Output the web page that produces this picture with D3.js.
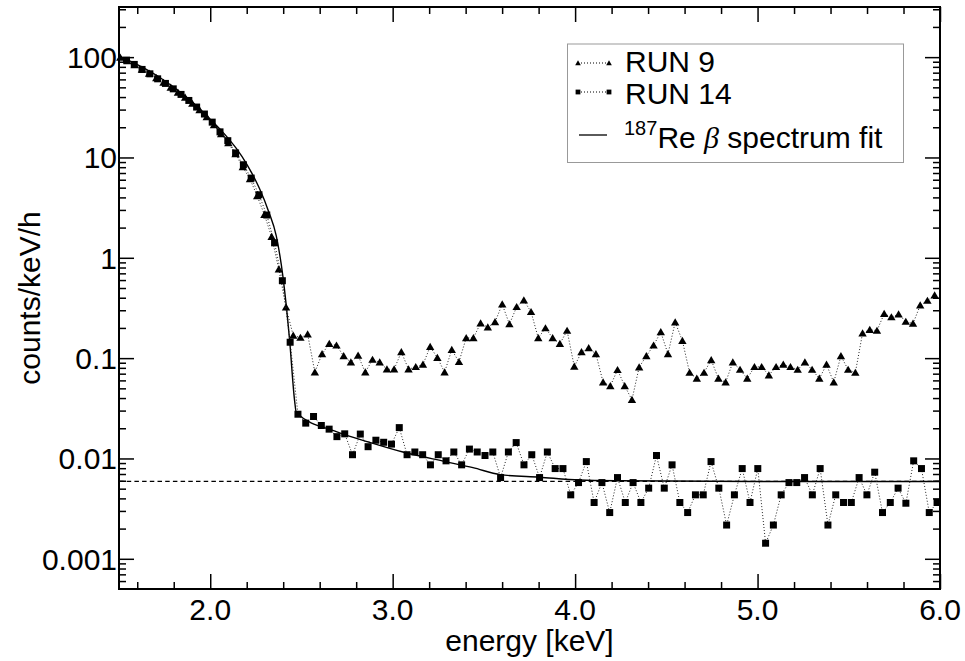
<!DOCTYPE html>
<html>
<head>
<meta charset="utf-8">
<script src="https://d3js.org/d3.v7.min.js"></script>
<style>
  body { margin: 0; background: #fff; }
  text { font-family: "Liberation Sans", Arial, Helvetica, sans-serif; fill: #000; }
</style>
</head>
<body>
<script>

// RUN 9 spectrum (triangles), equal bins starting at run9Start
var run9Start = 1.507, run9Step = 0.0395;
var run9 = [99, 91.2, 83.2, 75.1, 68.5, 61.8, 55.7, 49.7, 44.3, 39.5,
  34.4, 29.7, 25.3, 21.0, 17.1, 13.9, 10.8, 8.02, 6.09, 4.13,
  2.69, 1.62, 0.768, 0.321, 0.168, 0.160, 0.173, 0.0724, 0.110, 0.139,
  0.134, 0.105, 0.091, 0.106, 0.0724, 0.0966, 0.091, 0.0775, 0.0775, 0.115,
  0.0775, 0.0818, 0.0862, 0.130, 0.101, 0.0724, 0.121, 0.0917, 0.159, 0.159,
  0.223, 0.203, 0.229, 0.344, 0.218, 0.324, 0.377, 0.289, 0.159, 0.199,
  0.159, 0.139, 0.188, 0.0823, 0.115, 0.126, 0.110, 0.0575, 0.0528, 0.0763,
  0.0528, 0.0384, 0.0812, 0.105, 0.134, 0.182, 0.110, 0.228, 0.149, 0.0717,
  0.0625, 0.0717, 0.0959, 0.0625, 0.0575, 0.091, 0.0768, 0.0625, 0.0818, 0.0818,
  0.0676, 0.0818, 0.0862, 0.0818, 0.0768, 0.091, 0.0768, 0.0625, 0.0862, 0.0575,
  0.105, 0.0768, 0.0717, 0.177, 0.192, 0.188, 0.277, 0.256, 0.274, 0.231,
  0.221, 0.336, 0.374, 0.423];

// RUN 14 spectrum (squares)
var run14Start = 1.541, run14Step = 0.04272;
var run14 = [93.3, 84.6, 75.4, 68.2, 60.8, 54.7, 48.3, 42.5, 37.0, 31.8,
  27.1, 22.5, 18.0, 14.7, 11.1, 8.46, 6.23, 4.25, 2.67, 1.41,
  0.591, 0.144, 0.0276, 0.0225, 0.0262, 0.0213, 0.0196, 0.0165, 0.0176, 0.0109,
  0.0175, 0.0131, 0.0152, 0.0145, 0.0139, 0.0203, 0.0109, 0.0116, 0.0109, 0.00864,
  0.0109, 0.00947, 0.0116, 0.00864, 0.0124, 0.0116, 0.0107, 0.0116, 0.00645, 0.0116,
  0.0144, 0.00864, 0.0109, 0.00645, 0.0116, 0.00793, 0.00793, 0.00434, 0.00575, 0.00931,
  0.00364, 0.00575, 0.00289, 0.00645, 0.00364, 0.00575, 0.00364, 0.00506, 0.0107, 0.00506,
  0.00864, 0.00364, 0.00289, 0.00434, 0.00434, 0.00931, 0.00506, 0.00217, 0.00434, 0.00793,
  0.00364, 0.00793, 0.00143, 0.00217, 0.00434, 0.00575, 0.00575, 0.00645, 0.00434, 0.00793,
  0.00217, 0.00434, 0.00364, 0.00364, 0.00645, 0.00434, 0.0073, 0.00289, 0.00364, 0.00506,
  0.00358, 0.00947, 0.00793, 0.00289, 0.00364];

// 187Re beta spectrum fit
var fitEnergy = [1.5, 1.63, 1.722, 1.868, 1.996, 2.07, 2.143, 2.2, 2.27, 2.32, 2.362, 2.398, 2.435, 2.462, 2.472,
  2.691, 2.873, 3.056, 3.29, 3.44, 3.59, 3.805, 4.025, 4.244, 5.0, 6.0];
var fitValue = [103, 79, 63, 40.2, 24.5, 17.8, 12.3, 8.6, 4.9, 2.9, 1.65, 0.66, 0.152, 0.0384, 0.0285,
  0.0185, 0.0145, 0.0116, 0.0093, 0.0081, 0.0069, 0.0065, 0.0061, 0.006, 0.0059, 0.0059];

var background = 0.0059;

var xMajor = [2, 3, 4, 5, 6];
var yMajor = [0.001, 0.01, 0.1, 1, 10, 100];
var yLabels = ["0.001", "0.01", "0.1", "1", "10", "100"];

var width = 965, height = 661;
var margin = {top: 7, right: 25, bottom: 72, left: 119};
var fontSize = 30;

var svg = d3.select("body").append("svg")
  .attr("width", width)
  .attr("height", height);

var x = d3.scaleLinear().domain([1.5, 6.0]).range([margin.left, width - margin.right]);
var y = d3.scaleLog().domain([5e-4, 316]).range([height - margin.bottom, margin.top]);

var x0 = margin.left, x1 = width - margin.right;
var y0 = height - margin.bottom, y1 = margin.top;

var xMinor = d3.range(8, 30).filter(function(d) { return d % 5 !== 0; }).map(function(d) { return d / 5; });
var yMinor = [];
for (var k = -4; k <= 2; k++) {
  for (var m = 2; m <= 9; m++) {
    var v = m * Math.pow(10, k);
    if (v > 5e-4 && v < 316) yMinor.push(v);
  }
}

function ticks(axis, tx, ty) {
  var g = svg.append("g")
    .attr("transform", "translate(" + tx + "," + ty + ")")
    .call(axis);
  g.select(".domain").remove();
  g.selectAll("line").attr("stroke", "#000").attr("stroke-width", 1.5);
  g.selectAll("text").remove();
}

ticks(d3.axisBottom(x).tickValues(xMajor).tickSize(-15), 0, y0);
ticks(d3.axisBottom(x).tickValues(xMinor).tickSize(-7), 0, y0);
ticks(d3.axisTop(x).tickValues(xMajor).tickSize(-15), 0, y1);
ticks(d3.axisTop(x).tickValues(xMinor).tickSize(-7), 0, y1);
ticks(d3.axisLeft(y).tickValues(yMajor).tickSize(-15), x0, 0);
ticks(d3.axisLeft(y).tickValues(yMinor).tickSize(-7), x0, 0);
ticks(d3.axisRight(y).tickValues(yMajor).tickSize(-15), x1, 0);
ticks(d3.axisRight(y).tickValues(yMinor).tickSize(-7), x1, 0);

// tick labels
svg.append("g").selectAll("text")
  .data(xMajor)
  .enter().append("text")
  .attr("x", function(d) { return x(d); })
  .attr("y", 620)
  .attr("text-anchor", "middle")
  .attr("font-size", fontSize)
  .text(function(d) { return d3.format(".1f")(d); });

svg.append("g").selectAll("text")
  .data(yMajor)
  .enter().append("text")
  .attr("x", x0 - 2)
  .attr("y", function(d) { return y(d); })
  .attr("text-anchor", "end")
  .attr("dy", "0.36em")
  .attr("font-size", fontSize)
  .text(function(d, i) { return yLabels[i]; });

// axis titles
svg.append("text")
  .attr("x", (x0 + x1) / 2)
  .attr("y", 651)
  .attr("text-anchor", "middle")
  .attr("font-size", fontSize)
  .text("energy [keV]");

svg.append("text")
  .attr("transform", "translate(40," + ((y0 + y1) / 2) + ") rotate(-90)")
  .attr("text-anchor", "middle")
  .attr("font-size", fontSize)
  .text("counts/keV/h");

// background level
svg.append("line")
  .attr("x1", x0).attr("x2", x1)
  .attr("y1", y(background)).attr("y2", y(background))
  .attr("stroke", "#000")
  .attr("stroke-width", 1.3)
  .attr("stroke-dasharray", "4.5,3.2");

// fit curve
var fitLine = d3.line()
  .x(function(d, i) { return x(fitEnergy[i]); })
  .y(function(d) { return y(d); })
  .curve(d3.curveMonotoneX);

svg.append("path")
  .datum(fitValue)
  .attr("d", fitLine)
  .attr("fill", "none")
  .attr("stroke", "#000")
  .attr("stroke-width", 1.4);

// data series
var tri = "M0,-4L4.2,3.2L-4.2,3.2Z";
var sq = "M-3.5,-3.5H3.5V3.5H-3.5Z";

function series(values, start, step, shape) {
  var line = d3.line()
    .x(function(d, i) { return x(start + i * step); })
    .y(function(d) { return y(d); });
  svg.append("path")
    .datum(values)
    .attr("d", line)
    .attr("fill", "none")
    .attr("stroke", "#222")
    .attr("stroke-width", 1)
    .attr("stroke-dasharray", "1,2");
  svg.append("g").selectAll("path")
    .data(values)
    .enter().append("path")
    .attr("transform", function(d, i) { return "translate(" + x(start + i * step) + "," + y(d) + ")"; })
    .attr("d", shape)
    .attr("fill", "#000");
}

series(run9, run9Start, run9Step, tri);
series(run14, run14Start, run14Step, sq);

// frame
svg.append("rect")
  .attr("x", x0).attr("y", y1)
  .attr("width", x1 - x0).attr("height", y0 - y1)
  .attr("fill", "none")
  .attr("stroke", "#000")
  .attr("stroke-width", 2);

// legend
var legend = svg.append("g");
legend.append("rect")
  .attr("x", 567.5).attr("y", 44)
  .attr("width", 336).attr("height", 118.5)
  .attr("fill", "#fff")
  .attr("stroke", "#999")
  .attr("stroke-width", 1);

var legendRows = [
  {label: "RUN 9", ly: 63, ty: 72, shape: "M0,-2.8L2.8,2.2L-2.8,2.2Z"},
  {label: "RUN 14", ly: 92, ty: 104, shape: "M-2.4,-2.4H2.4V2.4H-2.4Z"}
];
legendRows.forEach(function(r) {
  legend.append("line")
    .attr("x1", 578).attr("x2", 609)
    .attr("y1", r.ly).attr("y2", r.ly)
    .attr("stroke", "#000").attr("stroke-width", 1)
    .attr("stroke-dasharray", "1,2");
  [578, 609].forEach(function(px) {
    legend.append("path")
      .attr("transform", "translate(" + px + "," + r.ly + ")")
      .attr("d", r.shape)
      .attr("fill", "#000");
  });
  legend.append("text")
    .attr("x", 625)
    .attr("y", r.ty)
    .attr("font-size", fontSize)
    .text(r.label);
});

legend.append("line")
  .attr("x1", 579).attr("x2", 607)
  .attr("y1", 135).attr("y2", 135)
  .attr("stroke", "#000").attr("stroke-width", 1.3);

var fitText = legend.append("text")
  .attr("x", 624)
  .attr("y", 148)
  .attr("font-size", fontSize);
fitText.append("tspan").attr("font-size", 20).attr("dy", -13).text("187");
fitText.append("tspan").attr("dy", 13).text("Re ");
fitText.append("tspan")
  .attr("font-family", "'Liberation Serif', 'DejaVu Serif', serif")
  .attr("font-style", "italic")
  .text("\u03b2");
fitText.append("tspan").text(" spectrum fit");

</script>
</body>
</html>
